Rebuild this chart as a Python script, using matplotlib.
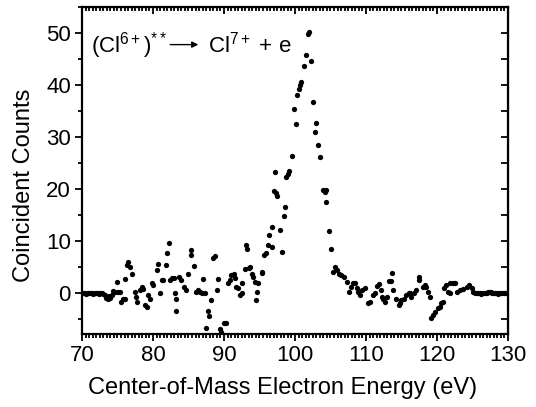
import matplotlib
matplotlib.use("Agg")
import matplotlib.pyplot as plt
from matplotlib.ticker import MultipleLocator

plt.rcParams['font.family'] = ['Liberation Sans', 'DejaVu Sans']
plt.rcParams['mathtext.fontset'] = 'custom'
plt.rcParams['mathtext.rm'] = 'Liberation Sans'
plt.rcParams['mathtext.it'] = 'Liberation Sans'

# center-of-mass energy (eV) and coincident counts
energy = [
    70.0, 70.2, 70.4, 70.6, 70.8, 71.0, 71.2, 71.4, 71.6, 71.8, 72.0, 72.2, 72.4, 72.6, 72.8,
    73.0, 73.2, 73.4, 73.6, 73.8, 74.0, 74.2, 74.4, 74.6, 74.9, 75.1, 75.3, 75.5, 75.8, 76.0,
    76.1, 76.4, 76.5, 76.8, 77.1, 77.4, 77.6, 77.8, 78.2, 78.4, 78.6, 78.9, 79.1, 79.3, 79.6,
    79.8, 80.0, 80.5, 80.7, 81.0, 81.2, 81.4, 81.8, 82.0, 82.3, 82.4, 82.7, 82.9, 83.1, 83.2,
    83.3, 83.7, 84.0, 84.3, 84.6, 85.0, 85.3, 85.4, 85.8, 86.1, 86.3, 86.6, 86.9, 87.0, 87.3,
    87.5, 87.7, 87.9, 88.2, 88.5, 88.7, 89.0, 89.2, 89.4, 89.6, 90.0, 90.3, 90.6, 90.8, 91.0,
    91.4, 91.5, 91.7, 92.0, 92.3, 92.5, 92.6, 92.9, 93.1, 93.3, 93.5, 93.7, 93.9, 94.1, 94.4,
    94.5, 94.6, 94.8, 95.3, 95.4, 95.7, 95.9, 96.2, 96.4, 96.7, 96.8, 97.0, 97.2, 97.3, 97.5,
    97.9, 98.1, 98.4, 98.6, 98.8, 99.0, 99.1, 99.6, 99.8, 100.1, 100.3, 100.6, 100.7, 100.9, 101.3,
    101.6, 101.9, 102.0, 102.3, 102.6, 102.8, 103.0, 103.3, 103.5, 104.0, 104.2, 104.3, 104.4, 104.8, 105.1,
    105.4, 105.6, 105.9, 106.2, 106.5, 106.9, 107.3, 107.6, 107.9, 108.2, 108.5, 108.7, 108.9, 109.2, 109.5,
    109.9, 110.3, 110.6, 111.0, 111.3, 111.6, 111.9, 112.1, 112.2, 112.4, 112.7, 112.9, 113.3, 113.5, 113.6,
    113.8, 114.2, 114.6, 114.8, 115.0, 115.3, 115.6, 116.0, 116.2, 116.4, 116.7, 117.1, 117.4, 117.5, 118.0,
    118.3, 118.5, 118.8, 119.0, 119.2, 119.4, 119.7, 120.1, 120.4, 120.6, 120.8, 121.0, 121.3, 121.5, 121.8,
    121.9, 122.2, 122.5, 122.8, 123.2, 123.7, 124.2, 124.5, 124.9, 125.1, 125.3, 125.6, 125.8, 126.0, 126.2,
    126.4, 126.6, 126.8, 127.0, 127.2, 127.4, 127.6, 127.8, 128.0, 128.2, 128.4, 128.6, 128.8, 129.0, 129.2,
    129.4, 129.6, 129.8, 130.0,
]
counts = [
    0.0, 0.1, 0.0, -0.1, 0.0, 0.1, 0.0, 0.0, -0.1, 0.0, 0.1, 0.0, -0.1, 0.0, 0.0,
    -0.2, -0.3, -0.8, -1.0, -0.5, -0.9, -0.4, 0.4, 0.2, 2.2, 0.3, 0.3, -1.6, -1.0, -1.1,
    2.8, 5.4, 6.0, 5.0, 3.7, 0.3, -0.7, -1.7, 0.6, 1.2, 0.8, -2.3, -2.6, -0.4, -1.0,
    1.9, 1.6, 4.4, 5.7, 0.0, 2.5, 2.5, 5.4, 7.7, 9.6, 2.5, 2.9, 2.9, 0.0, -3.3,
    -1.0, 3.2, 2.5, 1.3, 0.6, 3.8, 7.3, 8.3, 5.2, 0.3, 0.6, 0.3, 0.0, 2.8, 0.1,
    -6.6, -3.3, -4.4, -1.2, 6.7, 7.1, 0.6, 2.7, -6.9, -7.4, -5.6, -5.7, 2.0, 2.6, 3.5,
    3.8, 2.9, 1.3, 1.0, -0.3, 0.0, 1.9, 4.6, 9.3, 8.6, 4.8, 5.1, 3.8, 3.2, 2.2,
    -1.3, 0.3, 1.9, 4.0, 4.1, 7.4, 7.7, 9.3, 11.2, 8.9, 12.7, 19.7, 23.3, 19.2, 18.7,
    12.1, 8.0, 14.8, 16.6, 22.4, 23.0, 23.5, 26.4, 35.5, 32.6, 38.1, 39.3, 40.0, 40.6, 43.6,
    45.7, 49.9, 50.2, 44.6, 36.8, 31.0, 32.7, 28.5, 26.1, 19.8, 19.5, 17.6, 19.8, 12.0, 8.6,
    4.1, 5.1, 4.5, 3.8, 3.5, 3.2, 2.2, 0.3, 1.3, 2.0, 1.9, 1.0, 0.3, -0.3, 0.6,
    1.0, -1.9, -1.6, -0.3, 0.0, 1.4, 1.8, 0.6, -0.7, -1.0, -1.6, -0.7, 2.4, 2.4, 4.0,
    0.6, -1.0, -2.2, -1.9, -1.3, -1.0, -0.3, 0.0, 0.0, -0.7, 0.0, 0.6, 2.6, 3.2, 1.3,
    1.6, 1.3, 0.3, -0.7, -4.8, -4.2, -3.5, -2.9, -2.6, -1.9, -1.6, 1.0, 1.6, 0.3, 2.0,
    0.0, 1.9, 1.9, 0.3, 0.6, 0.8, 1.3, 1.6, 1.0, 0.2, 0.0, 0.0, 0.0, 0.0, -0.1,
    0.0, 0.0, 0.1, 0.0, 0.2, 0.3, 0.3, 0.1, 0.0, 0.0, 0.0, -0.1, 0.0, 0.0, 0.0,
    0.1, 0.0, 0.0, 0.0,
]

fig = plt.figure(figsize=(5.36, 4.07), dpi=100)
ax = fig.add_axes([82 / 536, 1 - 334 / 407, 426 / 536, 327 / 407])

ax.plot(energy, counts, 'o', color='black', markersize=3.8, markeredgewidth=0)

ax.set_xlim(70, 130)
ax.set_ylim(-7.8, 55)
ax.xaxis.set_major_locator(MultipleLocator(10))
ax.xaxis.set_minor_locator(MultipleLocator(0.5))
ax.yaxis.set_major_locator(MultipleLocator(10))
ax.yaxis.set_minor_locator(MultipleLocator(5))

for side in ax.spines.values():
    side.set_linewidth(1.6)

ax.tick_params(which='both', direction='out', top=False, right=False, width=1.3, labelsize=16)
ax.tick_params(which='major', length=5, pad=3)
ax.tick_params(which='minor', length=3)
# inward ticks on top and right
sec_x = ax.secondary_xaxis('top')
sec_x.xaxis.set_major_locator(MultipleLocator(10))
sec_x.xaxis.set_minor_locator(MultipleLocator(0.5))
sec_x.tick_params(which='both', direction='in', labeltop=False, width=1.3)
sec_x.tick_params(which='major', length=5)
sec_x.tick_params(which='minor', length=3)
sec_y = ax.secondary_yaxis('right')
sec_y.yaxis.set_major_locator(MultipleLocator(10))
sec_y.yaxis.set_minor_locator(MultipleLocator(5))
sec_y.tick_params(which='both', direction='in', labelright=False, width=1.3)
sec_y.tick_params(which='major', length=5)
sec_y.tick_params(which='minor', length=5)

ax.set_xlabel('Center-of-Mass Electron Energy (eV)', fontsize=17, labelpad=8, x=0.47)
ax.set_ylabel('Coincident Counts', fontsize=17, labelpad=8, y=0.455)

# reaction label: two text pieces joined by a thin arrow
ax.text(0.022, 0.862, r'(Cl$^{6+}$)$^{**}$', transform=ax.transAxes,
        fontsize=16, va='baseline', ha='left')
ax.annotate('', xy=(0.273, 0.885), xytext=(0.207, 0.885),
            xycoords='axes fraction', textcoords='axes fraction',
            arrowprops=dict(arrowstyle='-|>', color='black', lw=1.0,
                            mutation_scale=9, shrinkA=0, shrinkB=0))
ax.text(0.296, 0.862, r'Cl$^{7+}$ + e', transform=ax.transAxes,
        fontsize=16, va='baseline', ha='left')

fig.savefig('out.png', dpi=100)
